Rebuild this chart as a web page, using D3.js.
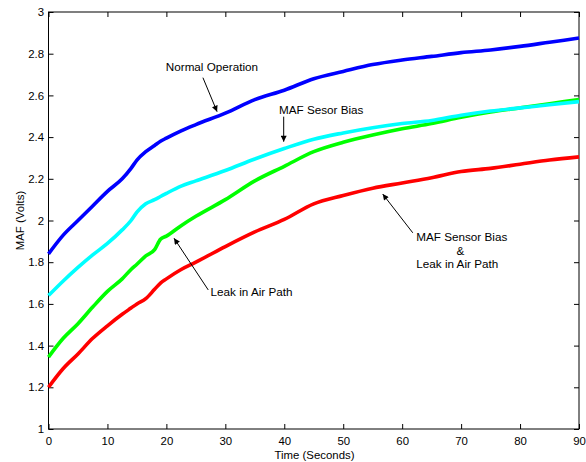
<!DOCTYPE html>
<html>
<head>
<meta charset="utf-8">
<script src="https://cdn.jsdelivr.net/npm/d3@7"></script>
<style>
  html, body { margin: 0; padding: 0; background: #fff; }
  svg { display: block; font-family: "Liberation Sans", Arial, Helvetica, sans-serif; }
</style>
</head>
<body>
<svg id="chart" width="586" height="462"></svg>
<script>
// ---- data ----
const time = [0, 2.5, 5, 7.5, 10, 12.5, 14, 15, 16.5, 18, 19, 20, 22.5, 25, 30, 35, 40, 45, 50, 55, 60, 65, 70, 75, 80, 85, 90];
const normalOperation = [1.84, 1.93, 2.00, 2.07, 2.14, 2.20, 2.25, 2.29, 2.33, 2.36, 2.38, 2.395, 2.43, 2.46, 2.515, 2.58, 2.625, 2.68, 2.715, 2.748, 2.77, 2.787, 2.805, 2.818, 2.835, 2.855, 2.875];
const mafSensorBias = [1.64, 1.71, 1.775, 1.835, 1.89, 1.955, 2.00, 2.04, 2.08, 2.10, 2.115, 2.13, 2.165, 2.19, 2.24, 2.295, 2.345, 2.39, 2.42, 2.445, 2.465, 2.48, 2.505, 2.525, 2.54, 2.555, 2.57];
const leakInAirPath = [1.345, 1.435, 1.505, 1.585, 1.66, 1.72, 1.765, 1.79, 1.83, 1.86, 1.91, 1.925, 1.975, 2.02, 2.10, 2.19, 2.26, 2.33, 2.375, 2.41, 2.44, 2.465, 2.495, 2.52, 2.54, 2.56, 2.58];
const biasAndLeak = [1.20, 1.29, 1.36, 1.435, 1.495, 1.55, 1.58, 1.60, 1.625, 1.67, 1.70, 1.72, 1.765, 1.80, 1.875, 1.945, 2.005, 2.08, 2.12, 2.155, 2.18, 2.205, 2.235, 2.25, 2.27, 2.29, 2.305];
const seriesNames = ["Normal Operation", "MAF Sesor Bias", "Leak in Air Path", "MAF Sensor Bias & Leak in Air Path"];
const seriesColors = ["#0000ff", "#00ffff", "#00ff00", "#ff0000"];
const xTicks = [0, 10, 20, 30, 40, 50, 60, 70, 80, 90];
const yTicks = [1, 1.2, 1.4, 1.6, 1.8, 2, 2.2, 2.4, 2.6, 2.8, 3];
const xLabel = "Time (Seconds)";
const yLabel = "MAF (Volts)";
// annotations in data coordinates: text lines, text anchor point, arrow from/to
const annotations = [
  { lines: ["Normal Operation"], tx: 19.9, ty: 2.717, from: [26.2, 2.685], to: [28.6, 2.522] },
  { lines: ["MAF Sesor Bias"], tx: 39.1, ty: 2.511, from: [39.9, 2.498], to: [39.9, 2.378] },
  { lines: ["Leak in Air Path"], tx: 27.5, ty: 1.638, from: [27.1, 1.667], to: [21.3, 1.915] },
  { lines: ["MAF Sensor Bias", "&", "Leak in Air Path"], tx: 62.4, ty: 1.903, from: [61.8, 1.941], to: [56.7, 2.127] }
];

(function draw() {
  const svg = d3.select("#chart");
  const pL = 48.5, pR = 579, pT = 12, pB = 429;
  const x = d3.scaleLinear().domain([0, 90]).range([pL, pR]);
  const y = d3.scaleLinear().domain([1, 3]).range([pB, pT]);
  const fontSize = 11.7;
  const tickFont = 11.4;

  // box
  svg.append("rect").attr("x", pL).attr("y", pT).attr("width", pR - pL).attr("height", pB - pT)
    .attr("fill", "none").attr("stroke", "#000").attr("stroke-width", 1);

  // axes (ticks inward, mirrored on top/right)
  const xAxis = svg.append("g").attr("transform", `translate(0,${pB})`)
    .call(d3.axisBottom(x).tickValues(xTicks).tickSize(-5).tickPadding(8).tickFormat(d3.format("d")));
  const xAxisTop = svg.append("g").attr("transform", `translate(0,${pT})`)
    .call(d3.axisTop(x).tickValues(xTicks).tickSize(-5).tickFormat(""));
  const yAxis = svg.append("g").attr("transform", `translate(${pL},0)`)
    .call(d3.axisLeft(y).tickValues(yTicks).tickSize(-5).tickPadding(4.5).tickFormat(d => String(+d.toFixed(1))));
  const yAxisRight = svg.append("g").attr("transform", `translate(${pR},0)`)
    .call(d3.axisRight(y).tickValues(yTicks).tickSize(-5).tickFormat(""));
  [xAxis, xAxisTop, yAxis, yAxisRight].forEach(g => {
    g.select(".domain").remove();
    g.selectAll(".tick line").attr("stroke", "#000");
    g.selectAll("text").attr("font-size", tickFont).attr("fill", "#000")
      .attr("font-family", '"Liberation Sans", Arial, sans-serif');
  });

  // series
  const allSeries = [normalOperation, mafSensorBias, leakInAirPath, biasAndLeak];
  const line = d3.line().x((d, i) => x(time[i])).y(d => y(d)).curve(d3.curveMonotoneX);
  const plot = svg.append("g");
  [3, 2, 1, 0].forEach(idx => {
    plot.append("path").datum(allSeries[idx])
      .attr("d", line)
      .attr("fill", "none")
      .attr("stroke", seriesColors[idx])
      .attr("stroke-width", 3.6)
      .attr("stroke-linejoin", "round")
      .append("title").text(seriesNames[idx]);
  });

  // arrowhead marker
  svg.append("defs").append("marker")
    .attr("id", "arrow").attr("viewBox", "0 0 10 10").attr("refX", 10).attr("refY", 5)
    .attr("markerWidth", 8).attr("markerHeight", 6).attr("markerUnits", "userSpaceOnUse")
    .attr("orient", "auto")
    .append("path").attr("d", "M0,0 L10,5 L0,10 Z").attr("fill", "#000");

  // annotations
  annotations.forEach(a => {
    svg.append("line")
      .attr("x1", x(a.from[0])).attr("y1", y(a.from[1]))
      .attr("x2", x(a.to[0])).attr("y2", y(a.to[1]))
      .attr("stroke", "#000").attr("stroke-width", 1)
      .attr("marker-end", "url(#arrow)");
    a.lines.forEach((t, i) => {
      const txt = svg.append("text")
        .attr("y", y(a.ty) + i * 13.8)
        .attr("font-size", fontSize)
        .attr("fill", "#000")
        .text(t);
      if (a.lines.length > 1 && t === "&") {
        txt.attr("x", x(a.tx) + 44).attr("text-anchor", "middle");
      } else {
        txt.attr("x", x(a.tx));
      }
    });
  });

  // axis labels
  svg.append("text").attr("x", 314.5).attr("y", 459)
    .attr("text-anchor", "middle").attr("font-size", tickFont).attr("fill", "#000").text(xLabel);
  svg.append("text").attr("transform", `translate(24,${(pT + pB) / 2}) rotate(-90)`)
    .attr("text-anchor", "middle").attr("font-size", tickFont).attr("fill", "#000").text(yLabel);
})();
</script>
</body>
</html>
